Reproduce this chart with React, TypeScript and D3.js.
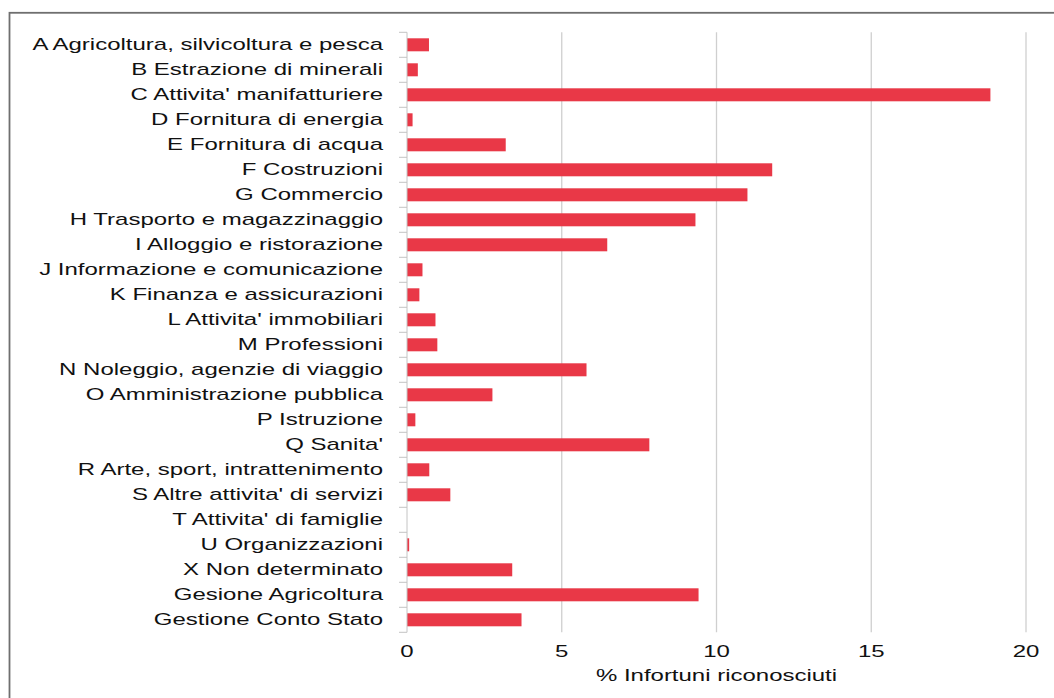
import React, { useEffect, useRef } from 'react';
import * as d3 from 'd3';

const categories = [
  'A Agricoltura, silvicoltura e pesca',
  'B Estrazione di minerali',
  "C Attivita' manifatturiere",
  'D Fornitura di energia',
  'E Fornitura di acqua',
  'F Costruzioni',
  'G Commercio',
  'H Trasporto e magazzinaggio',
  'I Alloggio e ristorazione',
  'J Informazione e comunicazione',
  'K Finanza e assicurazioni',
  "L Attivita' immobiliari",
  'M Professioni',
  'N Noleggio, agenzie di viaggio',
  'O Amministrazione pubblica',
  'P Istruzione',
  "Q Sanita'",
  'R Arte, sport, intrattenimento',
  "S Altre attivita' di servizi",
  "T Attivita' di famiglie",
  'U Organizzazioni',
  'X Non determinato',
  'Gesione Agricoltura',
  'Gestione Conto Stato',
];

const values = [
  0.71, 0.35, 18.85, 0.18, 3.19, 11.8, 11.0, 9.32, 6.47, 0.5, 0.4, 0.92,
  0.98, 5.8, 2.76, 0.27, 7.83, 0.72, 1.4, 0, 0.07, 3.4, 9.42, 3.7,
];

const xTicks = [0, 5, 10, 15, 20];
const xTitle = '% Infortuni riconosciuti';

const W = 1054;
const H = 698;
const FONT = 'Arial, "Liberation Sans", sans-serif';
const FS = 16;
const SX = 1.5;

const App = () => {
  const svgRef = useRef<SVGSVGElement>(null);

  useEffect(() => {
    if (!svgRef.current) return;
    const svg = d3.select(svgRef.current);
    svg.selectAll('*').remove();

    const x = d3.scaleLinear().domain([0, 20]).range([407, 1026]);
    const y = d3.scaleBand<string>()
      .domain(categories)
      .range([32.3, 632.3])
      .paddingInner(0.48)
      .paddingOuter(0.24);
    const step = y.step();
    const top = 32.3;
    const bottom = 632.3;

    // frame
    svg.append('rect')
      .attr('x', 9.5).attr('y', 12.8)
      .attr('width', 1100).attr('height', 800)
      .attr('fill', 'white')
      .attr('stroke', '#6f6f6f')
      .attr('stroke-width', 1.8);

    // gridlines
    svg.append('g').selectAll('line')
      .data(xTicks.filter(d => d > 0))
      .enter().append('line')
      .attr('x1', d => x(d)).attr('x2', d => x(d))
      .attr('y1', top).attr('y2', bottom)
      .attr('stroke', '#cfcfcf').attr('stroke-width', 1.3);

    // bars
    svg.append('g').selectAll('rect')
      .data(categories)
      .enter().append('rect')
      .attr('x', x(0))
      .attr('y', d => y(d)!)
      .attr('width', (d, i) => x(values[i]) - x(0))
      .attr('height', y.bandwidth())
      .attr('fill', '#e93847');

    // category axis
    svg.append('line')
      .attr('x1', x(0)).attr('x2', x(0))
      .attr('y1', top).attr('y2', bottom)
      .attr('stroke', '#c4c4c4').attr('stroke-width', 1);
    svg.append('g').selectAll('line')
      .data(d3.range(categories.length + 1))
      .enter().append('line')
      .attr('x1', x(0) - 8).attr('x2', x(0))
      .attr('y1', i => top + i * step).attr('y2', i => top + i * step)
      .attr('stroke', '#c4c4c4').attr('stroke-width', 1);

    // category labels
    svg.append('g').selectAll('text')
      .data(categories)
      .enter().append('text')
      .attr('transform', d => `translate(383,${y(d)! + y.bandwidth() / 2 + 5.6}) scale(${SX},1)`)
      .attr('text-anchor', 'end')
      .attr('font-family', FONT)
      .attr('font-size', FS)
      .attr('fill', '#111')
      .text(d => d);

    // x tick labels
    svg.append('g').selectAll('text')
      .data(xTicks)
      .enter().append('text')
      .attr('transform', d => `translate(${x(d)},656.5) scale(${SX},1)`)
      .attr('text-anchor', 'middle')
      .attr('font-family', FONT)
      .attr('font-size', FS)
      .attr('fill', '#111')
      .text(d => d);

    svg.append('text')
      .attr('transform', `translate(${x(10)},680.5) scale(${SX},1)`)
      .attr('text-anchor', 'middle')
      .attr('font-family', FONT)
      .attr('font-size', FS)
      .attr('fill', '#111')
      .text(xTitle);
  }, []);

  return (
    <svg
      ref={svgRef}
      width={W}
      height={H}
      style={{ position: 'absolute', left: 0, top: 0, background: 'white' }}
    />
  );
};

export default App;
